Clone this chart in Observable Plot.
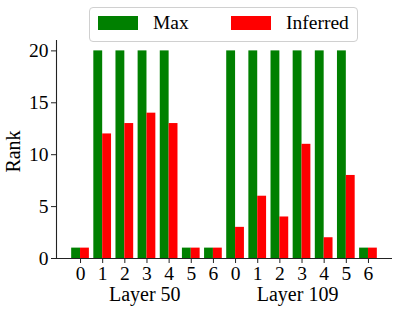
<!DOCTYPE html>
<html>
<head>
<meta charset="utf-8">
<script src="https://cdn.jsdelivr.net/npm/d3@7"></script>
<script src="https://cdn.jsdelivr.net/npm/@observablehq/plot@0.6"></script>
<style>
  html, body { margin: 0; padding: 0; background: #fff; }
  #wrap { position: relative; width: 401px; height: 312px; font-family: "Liberation Serif", "Times New Roman", serif; }
  #legend { position: absolute; left: 89px; top: 7px; width: 267px; height: 33px; border: 1px solid #d0d0d0; border-radius: 4px; background: rgba(255,255,255,0.8); font-size: 19.5px; color: #000; }
  #legend .sw { position: absolute; top: 8px; width: 40px; height: 14px; }
  #legend .lb { position: absolute; top: 3px; line-height: 24px; }
</style>
</head>
<body>
<div id="wrap"></div>
<script>
const tickLabels = ["0","1","2","3","4","5","6","0","1","2","3","4","5","6"];
const maxValues = [1,20,20,20,20,1,1, 20,20,20,20,20,20,1];
const inferredValues = [1,12,13,14,13,1,1, 3,6,4,11,2,8,1];
const seriesNames = ["Max","Inferred"];
const seriesColors = ["green","red"];
const groupLabels = ["Layer 50","Layer 109"];
const groupCenters = [2.9, 9.8];
const yTicks = [0,5,10,15,20];

const barWidth = 0.4;
const rows = [];
tickLabels.forEach((t, i) => {
  rows.push({i, series: "Max", value: maxValues[i], x1: i - barWidth, x2: i});
  rows.push({i, series: "Inferred", value: inferredValues[i], x1: i, x2: i + barWidth});
});
const xDomain = [-1.085, tickLabels.length - 1 + 1.085];
const groups = groupLabels.map((g, k) => ({label: g, x: groupCenters[k]}));

const chart = Plot.plot({
  width: 401,
  height: 312,
  marginLeft: 56,
  marginRight: 9,
  marginTop: 40,
  marginBottom: 54,
  style: {fontFamily: '"Liberation Serif", "Times New Roman", serif', fontSize: "19.5px", color: "#000", background: "transparent"},
  x: {domain: xDomain, axis: null},
  y: {domain: [0, 21], axis: null},
  color: {domain: seriesNames, range: seriesColors},
  marks: [
    Plot.rectY(rows, {x1: "x1", x2: "x2", y1: 0, y2: "value", fill: "series"}),
    Plot.axisX({ticks: d3.range(tickLabels.length), tickFormat: i => tickLabels[i], tickSize: 5, tickPadding: 3, fontSize: 19.5, stroke: "#222", label: null}),
    Plot.axisY({ticks: yTicks, tickSize: 5, tickPadding: 3, fontSize: 19.5, stroke: "#222", label: null}),
    Plot.ruleY([0], {stroke: "#222", strokeWidth: 1.1}),
    Plot.ruleX([xDomain[0]], {stroke: "#222", strokeWidth: 1.1}),
    Plot.text(groups, {x: "x", text: "label", frameAnchor: "bottom", lineAnchor: "bottom", dy: 42.7, fontSize: 20, fill: "#000"}),
    Plot.text(["Rank"], {text: d => d, frameAnchor: "left", textAnchor: "middle", rotate: -90, lineAnchor: "bottom", dx: -37, dy: 2, fontSize: 20, fill: "#000"})
  ]
});
const wrap = document.getElementById("wrap");
wrap.appendChild(chart);
chart.style.position = "absolute";
chart.style.left = "0";
chart.style.top = "0";

const legend = document.createElement("div");
legend.id = "legend";
const items = [
  {sw: 8, lb: 63},
  {sw: 141, lb: 196}
];
seriesNames.forEach((name, k) => {
  const sw = document.createElement("div");
  sw.className = "sw";
  sw.style.left = items[k].sw + "px";
  sw.style.background = seriesColors[k];
  const lb = document.createElement("div");
  lb.className = "lb";
  lb.style.left = items[k].lb + "px";
  lb.textContent = name;
  legend.appendChild(sw);
  legend.appendChild(lb);
});
wrap.appendChild(legend);
</script>
</body>
</html>
